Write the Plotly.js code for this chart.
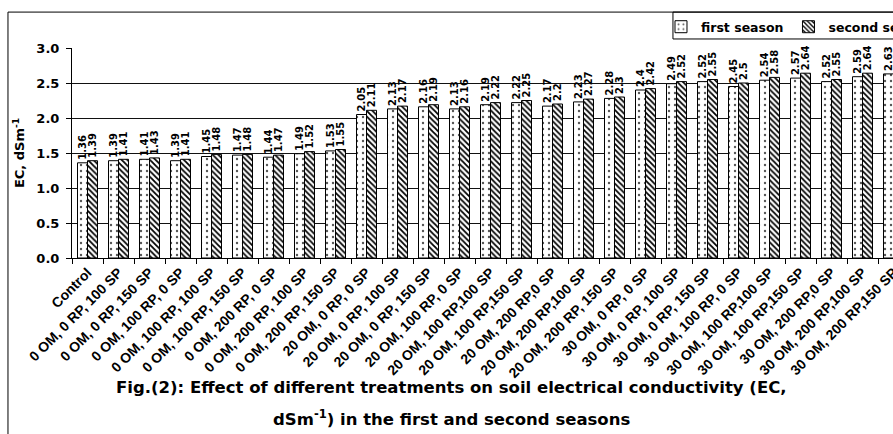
<!DOCTYPE html>
<html>
<head>
<meta charset="utf-8">
<script src="https://cdn.plot.ly/plotly-3.0.1.min.js"></script>
<style>
html,body{margin:0;padding:0;overflow:hidden;background:#fff;}
#chart{width:930px;height:434px;}
</style>
</head>
<body>
<div id="chart"></div>
<script>
var categories = [
  "Control",
  "0 OM, 0 RP, 100 SP", "0 OM, 0 RP, 150 SP", "0 OM, 100 RP, 0 SP",
  "0 OM, 100 RP, 100 SP", "0 OM, 100 RP, 150 SP", "0 OM, 200 RP, 0 SP",
  "0 OM, 200 RP, 100 SP", "0 OM, 200 RP, 150 SP",
  "20 OM, 0 RP, 0 SP", "20 OM, 0 RP, 100 SP", "20 OM, 0 RP, 150 SP",
  "20 OM, 100 RP, 0 SP", "20 OM, 100 RP,100 SP", "20 OM, 100 RP,150 SP",
  "20 OM, 200 RP,0 SP", "20 OM, 200 RP,100 SP", "20 OM, 200 RP, 150 SP",
  "30 OM, 0 RP, 0 SP", "30 OM, 0 RP, 100 SP", "30 OM, 0 RP, 150 SP",
  "30 OM, 100 RP, 0 SP", "30 OM, 100 RP,100 SP", "30 OM, 100 RP,150 SP",
  "30 OM, 200 RP,0 SP", "30 OM, 200 RP,100 SP", "30 OM, 200 RP,150 SP"
];
var firstSeason = [1.36, 1.39, 1.41, 1.39, 1.45, 1.47, 1.44, 1.49, 1.53,
  2.05, 2.13, 2.16, 2.13, 2.19, 2.22, 2.17, 2.23, 2.28,
  2.4, 2.49, 2.52, 2.45, 2.54, 2.57, 2.52, 2.59, 2.63];
var secondSeason = [1.39, 1.41, 1.43, 1.41, 1.48, 1.48, 1.47, 1.52, 1.55,
  2.11, 2.17, 2.19, 2.16, 2.22, 2.25, 2.2, 2.27, 2.3,
  2.42, 2.52, 2.55, 2.5, 2.58, 2.64, 2.55, 2.64, 2.66];
var seriesNames = ["first season", "second season"];
var yTicks = [0, 0.5, 1, 1.5, 2, 2.5, 3];
var yTickText = ["0.0", "0.5", "1.0", "1.5", "2.0", "2.5", "3.0"];

var FONT = "DejaVu Sans, Liberation Sans, Arial, sans-serif";
var FONT2 = "Liberation Sans, Arial, sans-serif";
function f(size, fam) { return {family: fam || FONT, size: size, color: "#000", weight: "bold"}; }

var traces = [
  {
    type: "bar", name: seriesNames[0], x: categories, y: firstSeason,
    text: firstSeason.map(String), textposition: "outside", textangle: -90,
    textfont: f(10), constraintext: "none", cliponaxis: false,
    marker: {color: "#fff", line: {color: "#000", width: 1},
      pattern: {shape: ".", size: 6, solidity: 0.12, fgcolor: "#555", bgcolor: "#fff"}}
  },
  {
    type: "bar", name: seriesNames[1], x: categories, y: secondSeason,
    text: secondSeason.map(String), textposition: "outside", textangle: -90,
    textfont: f(10), constraintext: "none", cliponaxis: false,
    marker: {color: "#fff", line: {color: "#000", width: 1},
      pattern: {shape: "\\", size: 4, solidity: 0.45, fgcolor: "#000", bgcolor: "#fff"}}
  }
];

var layout = {
  width: 930, height: 434,
  margin: {l: 72, r: 21, t: 48, b: 176, autoexpand: false},
  paper_bgcolor: "#fff", plot_bgcolor: "#fff",
  font: f(12),
  barmode: "group", bargap: 0.355, bargroupgap: 0,
  showlegend: true,
  legend: {orientation: "h", x: 0.7037, xanchor: "left", y: 1.171, yanchor: "top",
    borderwidth: 0, bgcolor: "rgba(0,0,0,0)",
    font: f(12.5), itemwidth: 30, tracegroupgap: 0},
  xaxis: {
    type: "category", tickangle: -45, tickson: "boundaries",
    ticks: "outside", ticklen: 5, tickcolor: "#000",
    showline: true, linecolor: "#000", linewidth: 1,
    showgrid: false, automargin: false,
    tickfont: f(14, FONT2)
  },
  yaxis: {
    range: [0, 3], tickvals: yTicks, ticktext: yTickText,
    ticks: "outside", ticklen: 5, tickcolor: "#000", ticklabelstandoff: 4,
    showline: true, linecolor: "#000", linewidth: 1,
    showgrid: true, gridcolor: "#111", gridwidth: 1,
    zeroline: false, automargin: false,
    tickfont: f(13),
    title: {text: "EC, dSm<sup>-1</sup>", standoff: 8, font: f(13)}
  },
  shapes: [
    {type: "rect", xref: "paper", yref: "paper",
     x0: -0.0765, x1: 1.02, y0: -0.9, y1: 1.171,
     line: {color: "#000", width: 1}, fillcolor: "rgba(0,0,0,0)", layer: "below"},
    {type: "rect", xref: "paper", yref: "paper",
     x0: 0.718, x1: 1.05, y0: 1.043, y1: 1.171,
     line: {color: "#000", width: 1}, fillcolor: "rgba(0,0,0,0)", layer: "below"}
  ],
  annotations: [
    {xref: "paper", yref: "paper", x: 0.454, y: -0.619, showarrow: false,
     xanchor: "center", yanchor: "middle",
     text: "Fig.(2): Effect of different treatments on soil electrical conductivity (EC,",
     font: f(16.5)},
    {xref: "paper", yref: "paper", x: 0.454, y: -0.762, showarrow: false,
     xanchor: "center", yanchor: "middle",
     text: "dSm<sup>-1</sup>) in the first and second seasons",
     font: f(16.5)}
  ]
};

Plotly.newPlot("chart", traces, layout, {displayModeBar: false, staticPlot: true});
</script>
</body>
</html>
